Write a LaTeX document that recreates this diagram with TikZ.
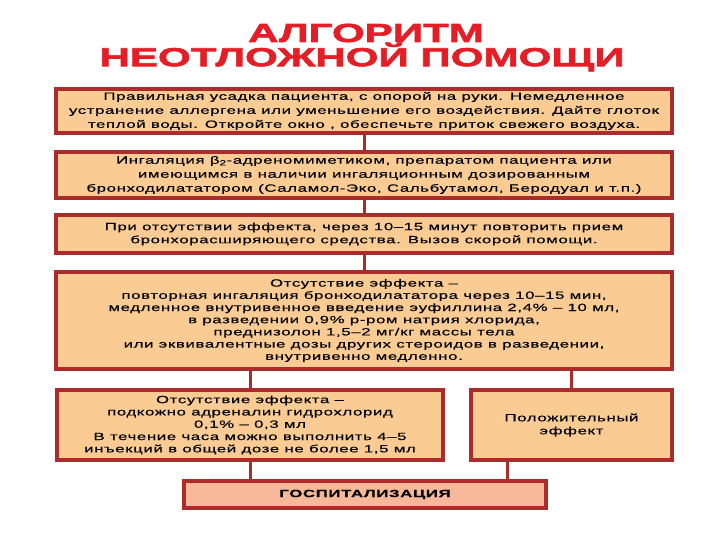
\documentclass[tikz,border=0pt]{standalone}
\usepackage{fontspec}
\setmainfont{Liberation Sans}
\newfontfamily\titlefont{Liberation Sans}[FakeStretch=1.62,FakeBold=2.5]
\newfontfamily\boxfont{Liberation Sans}[FakeStretch=1.6,LetterSpace=6,FakeBold=0.4]
\usetikzlibrary{positioning}

\definecolor{boxline}{RGB}{172,44,44}
\definecolor{boxfill}{RGB}{250,204,148}
\definecolor{hospfill}{RGB}{246,184,152}
\definecolor{titlered}{RGB}{228,30,38}

\begin{document}
\begin{tikzpicture}[x=1pt,y=-1pt]
  \tikzset{stage/.style = {shape=rectangle,draw=boxline,fill=boxfill,line width=4pt,inner sep=0pt,align=center,font=\boxfont\fontsize{10.5}{13}\selectfont}}
  \tikzset{heading/.style = {text=titlered,font=\titlefont\bfseries\fontsize{26}{27}\selectfont,inner sep=0pt}}
  \tikzset{conn/.style = {draw=boxline,line width=3pt}}

  \useasboundingbox (0,0) rectangle (720,540);

	\node[heading] (T1) at (366,33) {АЛГОРИТМ};
	\node[heading] (T2) at (362,57) {НЕОТЛОЖНОЙ ПОМОЩИ};

	\node[stage,minimum width=616,minimum height=44,font=\boxfont\fontsize{10.5}{14}\selectfont] (U) at (364,111) {Правильная усадка пациента, с опорой на руки. Немедленное\\ устранение аллергена или уменьшение его воздействия. Дайте глоток\\ теплой воды. Откройте окно , обеспечьте приток свежего воздуха.};
	\node[stage,minimum width=616,minimum height=46,font=\boxfont\fontsize{10.5}{14}\selectfont] (I) at (364,175) {Ингаляция β\textsubscript{2}-адреномиметиком, препаратом пациента или\\ имеющимся в наличии ингаляционным дозированным\\ бронходилататором (Саламол-Эко, Сальбутамол, Беродуал и т.п.)};
	\node[stage,minimum width=616,minimum height=38] (R) at (364,234) {При отсутствии эффекта, через 10–15 минут повторить прием\\ бронхорасширяющего средства. Вызов скорой помощи.};
	\node[stage,minimum width=616,minimum height=97,font=\boxfont\fontsize{10.5}{12.2}\selectfont] (E) at (364,320.5) {Отсутствие эффекта –\\ повторная ингаляция бронходилататора через 10–15 мин,\\ медленное внутривенное введение эуфиллина 2,4\% – 10 мл,\\ в разведении 0,9\% р-ром натрия хлорида,\\ преднизолон 1,5–2 мг/кг массы тела\\ или эквивалентные дозы других стероидов в разведении,\\ внутривенно медленно.};

	\node[stage,minimum width=386,minimum height=70,font=\boxfont\fontsize{10.5}{12.3}\selectfont] (A) at (250,425) {Отсутствие эффекта –\\ подкожно адреналин гидрохлорид\\ 0,1\% – 0,3 мл\\ В течение часа можно выполнить 4–5\\ инъекций в общей дозе не более 1,5 мл};
	\node[stage,minimum width=201,minimum height=70] (P) at (571.5,425) {Положительный\\ эффект};

	\node[stage,fill=hospfill,minimum width=362,minimum height=27] (G) at (365,494.5) {\bfseries ГОСПИТАЛИЗАЦИЯ};

	
	\foreach \from/\to in {U/I, I/R, R/E}
	  \path[conn](\from) edge (\to);

	\path[conn](A.north) edge (A.north |- E.south);
	\path[conn](P.north) edge (P.north |- E.south);
	\path[conn](A.south) edge (A.south |- G.north);
	\path[conn]([xshift=-64.5]P.south) edge ([xshift=-64.5]P.south |- G.north);

\end{tikzpicture}
\end{document}
